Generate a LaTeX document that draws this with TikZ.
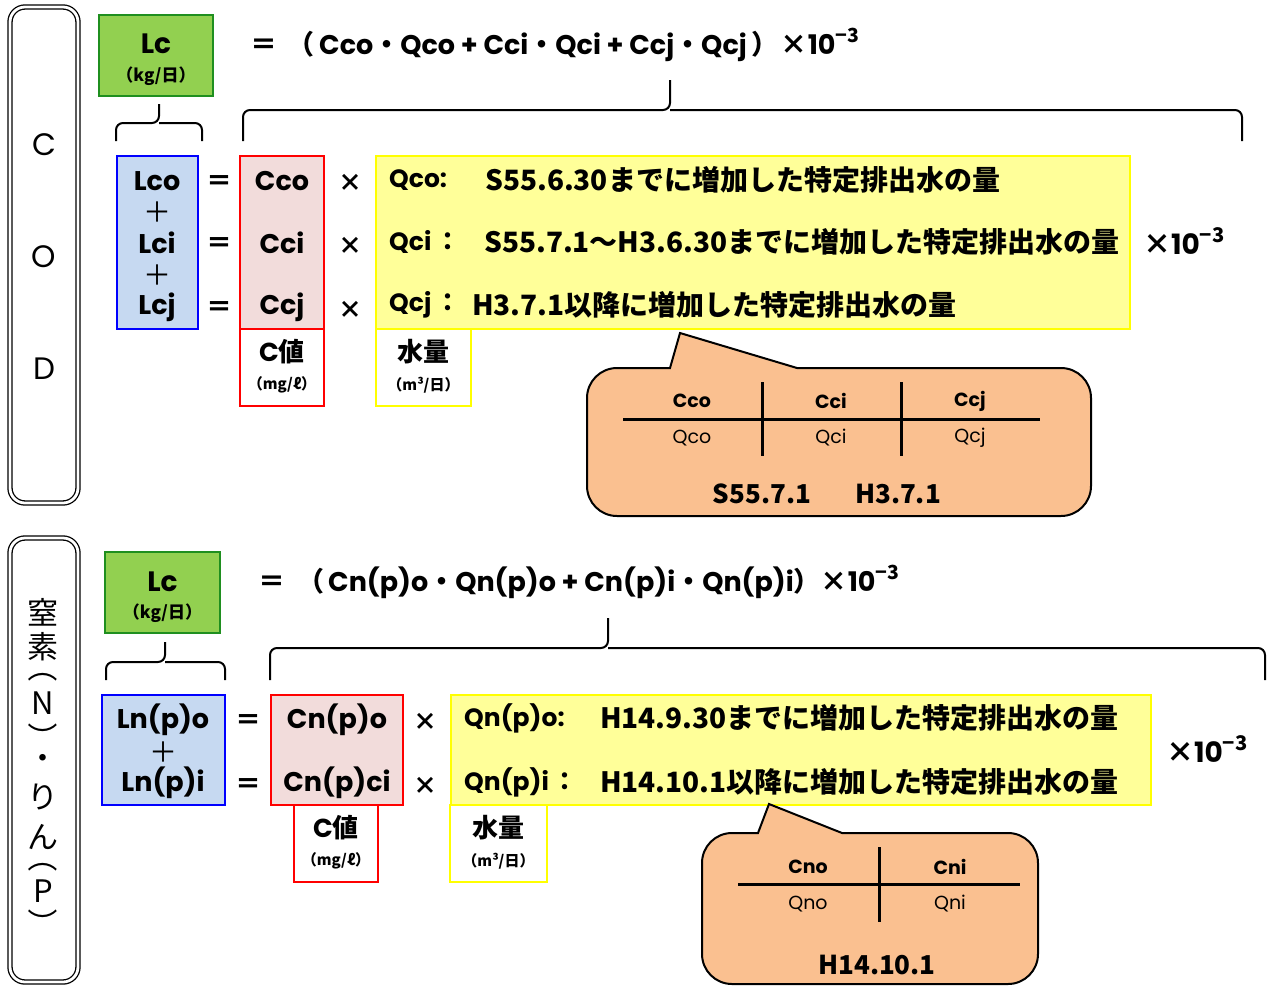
\documentclass[tikz,border=0pt]{standalone}
\usepackage{fontspec}
\usepackage{graphicx}
\setmainfont{Noto Sans CJK JP}
\newfontfamily\pop{Poppins}
\newfontfamily\cjkfont{Noto Sans CJK JP}
\newcommand\fsz[1]{\fontsize{#1}{#1}\selectfont}
\newcommand\supr[1]{\raisebox{0.45em}{\scalebox{0.72}{#1}}}
\definecolor{gfill}{HTML}{92D050}
\definecolor{gline}{HTML}{1F8F1F}
\definecolor{bfill}{HTML}{C6D9F1}
\definecolor{rfill}{HTML}{F2DCDB}
\definecolor{yfill}{HTML}{FFFF99}
\definecolor{yline}{HTML}{FFFF00}
\definecolor{ofill}{HTML}{FAC090}
\tikzset{
  box/.style={draw, line width=2.5pt, inner sep=0pt},
  gbox/.style={box, draw=gline, fill=gfill},
  bbox/.style={box, draw=blue, fill=bfill},
  rbox/.style={box, draw=red, fill=rfill},
  rwbox/.style={box, draw=red, fill=white},
  ybox/.style={box, draw=yline, fill=yfill},
  ywbox/.style={box, draw=yline, fill=white},
  brace/.style={line width=2pt, rounded corners=7pt},
  frm/.style={double, draw=black, line width=1.3pt, double distance=2.8pt, rounded corners=15pt},
  callout/.style={draw=black, line width=2pt, fill=ofill},
  tline/.style={line width=3pt},
  tx/.style={inner sep=0pt, font=\bfseries\fsz{#1}},
  tr/.style={inner sep=0pt, font=\fsz{#1}},
  px/.style={inner sep=0pt, font=\pop\bfseries\fsz{#1}},
  pr/.style={inner sep=0pt, font=\pop\fsz{#1}},
  rp/.style={inner sep=0pt, font=\fsz{30}, rotate=-90},
}
\begin{document}
\begin{tikzpicture}[x=1pt,y=-1pt]
\useasboundingbox (0,0) rectangle (1288,986);
\fill[white] (0,0) rectangle (1288,986);

% ================= COD =================
\draw[frm] (10,7) rectangle (78,503);
\node[pr=31] (cC) at (44,145) {C};
\node[pr=31] (cO) at (44,257) {O};
\node[pr=31] (cD) at (44,369) {D};

\node[gbox, minimum width=114, minimum height=81] (g1) at (156,55.5) {};
\node[px=28] (g1a) at (156,44) {Lc};
\node[tx=17] (g1b) at (156,76) {（kg/日）};

\node[tx=27, anchor=west] (f1) at (250,45) {＝\hspace{10pt}（\hspace{5pt}{\pop Cco}・{\pop Qco + Cci}・{\pop Qci + Ccj}・{\pop Qcj}\hspace{5pt}）\hspace{2pt}×{\pop 10}\supr{−3}};

\draw[brace] (116,141) -- (116,123) -- (159,123) -- (159,104);
\draw[brace] (159,123) -- (202,123) -- (202,141);
\draw[brace] (243,141) -- (243,110) -- (670,110) -- (670,80);
\draw[brace] (670,110) -- (1242,110) -- (1242,141);

\node[bbox, minimum width=81, minimum height=173] (b1) at (157.5,242.5) {};
\node[rbox, minimum width=84, minimum height=173] (r1) at (282,242.5) {};
\node[rwbox, minimum width=84, minimum height=77] (r1u) at (282,367.5) {};
\node[ybox, minimum width=754, minimum height=173] (y1) at (753,242.5) {};
\node[ywbox, minimum width=95, minimum height=77] (y1u) at (423.5,367.5) {};

\node[px=27] (l1) at (157,181) {Lco};
\node[tr=28] (p1) at (157,212) {＋};
\node[px=27] (l2) at (157,243) {Lci};
\node[tr=28] (p2) at (157,275) {＋};
\node[px=27] (l3) at (157,307) {Lcj};

\node[tx=26] (e1) at (219,183) {＝};
\node[tx=26] (e2) at (219,245) {＝};
\node[tx=26] (e3) at (219,309) {＝};

\node[px=27] (c1) at (282,181) {Cco};
\node[px=27] (c2) at (282,243) {Cci};
\node[px=27] (c3) at (282,307) {Ccj};

\node[tx=24] (x1) at (350,183) {×};
\node[tx=24] (x2) at (350,246) {×};
\node[tx=24] (x3) at (350,310) {×};

\node[px=25, anchor=west] (q1) at (389,180) {Qco:};
\node[tx=28, anchor=west] (q1b) at (485,180) {S55.6.30までに増加した特定排出水の量};
\node[px=25, anchor=west] (q2) at (389,242) {Qci\hspace{4pt}{\cjkfont：}};
\node[tx=28, anchor=west] (q2b) at (484,242) {S55.7.1～H3.6.30までに増加した特定排出水の量};
\node[px=25, anchor=west] (q3) at (389,305) {Qcj\hspace{4pt}{\cjkfont：}};
\node[tx=28, anchor=west] (q3b) at (472,305) {H3.7.1以降に増加した特定排出水の量};

\node[tx=26] (cv1) at (282,352) {{\pop C}値};
\node[tx=15] (cu1) at (282,385) {（mg/ℓ）};
\node[tx=26] (wv1) at (423.5,352) {水量};
\node[tx=15] (wu1) at (423.5,385) {（m³/日）};

\node[tx=28, anchor=west] (m1) at (1143,241) {×{\pop 10}\supr{−3}};

\draw[callout] (797,368) [rounded corners=30pt] -- (1091,368) -- (1091,516) -- (587,516) -- (587,368) [sharp corners] -- (670,368) -- (680,333) -- cycle;
\draw[tline] (623,419) -- (1040,419);
\draw[tline] (762,382) -- (762,456);
\draw[tline] (901,382) -- (901,456);
\node[px=19] (k1) at (692,401) {Cco};
\node[px=19] (k2) at (831,401) {Cci};
\node[px=19] (k3) at (970,401) {Ccj};
\node[pr=19] (k4) at (692,438) {Qco};
\node[pr=19] (k5) at (831,438) {Qci};
\node[pr=19] (k6) at (970,438) {Qcj};
\node[tx=26] (d1) at (762,494) {S55.7.1};
\node[tx=26] (d2) at (898,494) {H3.7.1};

% ================= N / P =================
\draw[frm] (10,538) rectangle (78,982);
\node[tr=31] (v1) at (43,612) {窒};
\node[tr=31] (v2) at (43,647) {素};
\node[rp] (v3) at (43,667) {（};
\node[tr=31] (v4) at (43,703) {N};
\node[rp] (v5) at (43,737) {）};
\node[tr=31] (v6) at (43,762) {・};
\node[tr=31] (v7) at (43,797) {り};
\node[tr=31] (v8) at (43,837) {ん};
\node[rp] (v9) at (43,857) {（};
\node[tr=31] (v10) at (43,891) {P};
\node[rp] (v11) at (43,923) {）};

\node[gbox, minimum width=115, minimum height=81] (g2) at (162.5,592.5) {};
\node[px=28] (g2a) at (162.5,582) {Lc};
\node[tx=17] (g2b) at (162.5,613) {（kg/日）};

\node[tx=27, anchor=west] (f2) at (258,582) {＝\hspace{12pt}（\hspace{4pt}{\pop Cn(p)o}・{\pop Qn(p)o + Cn(p)i}・{\pop Qn(p)i}）×{\pop 10}\supr{−3}};

\draw[brace] (106,680) -- (106,662) -- (165,662) -- (165,642);
\draw[brace] (165,662) -- (225,662) -- (225,680);
\draw[brace] (270,680) -- (270,648) -- (608,648) -- (608,618);
\draw[brace] (608,648) -- (1265,648) -- (1265,680);

\node[bbox, minimum width=123, minimum height=110] (b2) at (163.5,750) {};
\node[rbox, minimum width=132, minimum height=110] (r2) at (337,750) {};
\node[rwbox, minimum width=84, minimum height=77] (r2u) at (336,843.5) {};
\node[ybox, minimum width=700, minimum height=110] (y2) at (801,750) {};
\node[ywbox, minimum width=97, minimum height=77] (y2u) at (498.5,843.5) {};

\node[px=27] (n1) at (163,720) {Ln(p)o};
\node[tr=28] (np) at (163,752) {＋};
\node[px=27] (n2) at (163,783) {Ln(p)i};

\node[tx=26] (ne1) at (248,722) {＝};
\node[tx=26] (ne2) at (248,786) {＝};

\node[px=27] (nc1) at (337,720) {Cn(p)o};
\node[px=27] (nc2) at (337,783) {Cn(p)ci};

\node[tx=24] (nx1) at (425,722) {×};
\node[tx=24] (nx2) at (425,786) {×};

\node[px=25, anchor=west] (nq1) at (464,718) {Qn(p)o:};
\node[tx=28, anchor=west] (nq1b) at (600,718) {H14.9.30までに増加した特定排出水の量};
\node[px=25, anchor=west] (nq2) at (464,782) {Qn(p)i\hspace{4pt}{\cjkfont：}};
\node[tx=28, anchor=west] (nq2b) at (600,782) {H14.10.1以降に増加した特定排出水の量};

\node[tx=26] (cv2) at (336,828) {{\pop C}値};
\node[tx=15] (cu2) at (336,861) {（mg/ℓ）};
\node[tx=26] (wv2) at (498.5,828) {水量};
\node[tx=15] (wu2) at (498.5,861) {（m³/日）};

\node[tx=28, anchor=west] (m2) at (1166,749) {×{\pop 10}\supr{−3}};

\draw[callout] (842,833) [rounded corners=30pt] -- (1038,833) -- (1038,984) -- (702,984) -- (702,833) [sharp corners] -- (758,833) -- (769,804) -- cycle;
\draw[tline] (738,884) -- (1020,884);
\draw[tline] (879,847) -- (879,922);
\node[px=19] (h1) at (808,867) {Cno};
\node[px=19] (h2) at (950,867) {Cni};
\node[pr=19] (h3) at (808,904) {Qno};
\node[pr=19] (h4) at (950,904) {Qni};
\node[tx=26] (h5) at (877,965) {H14.10.1};
\end{tikzpicture}
\end{document}
